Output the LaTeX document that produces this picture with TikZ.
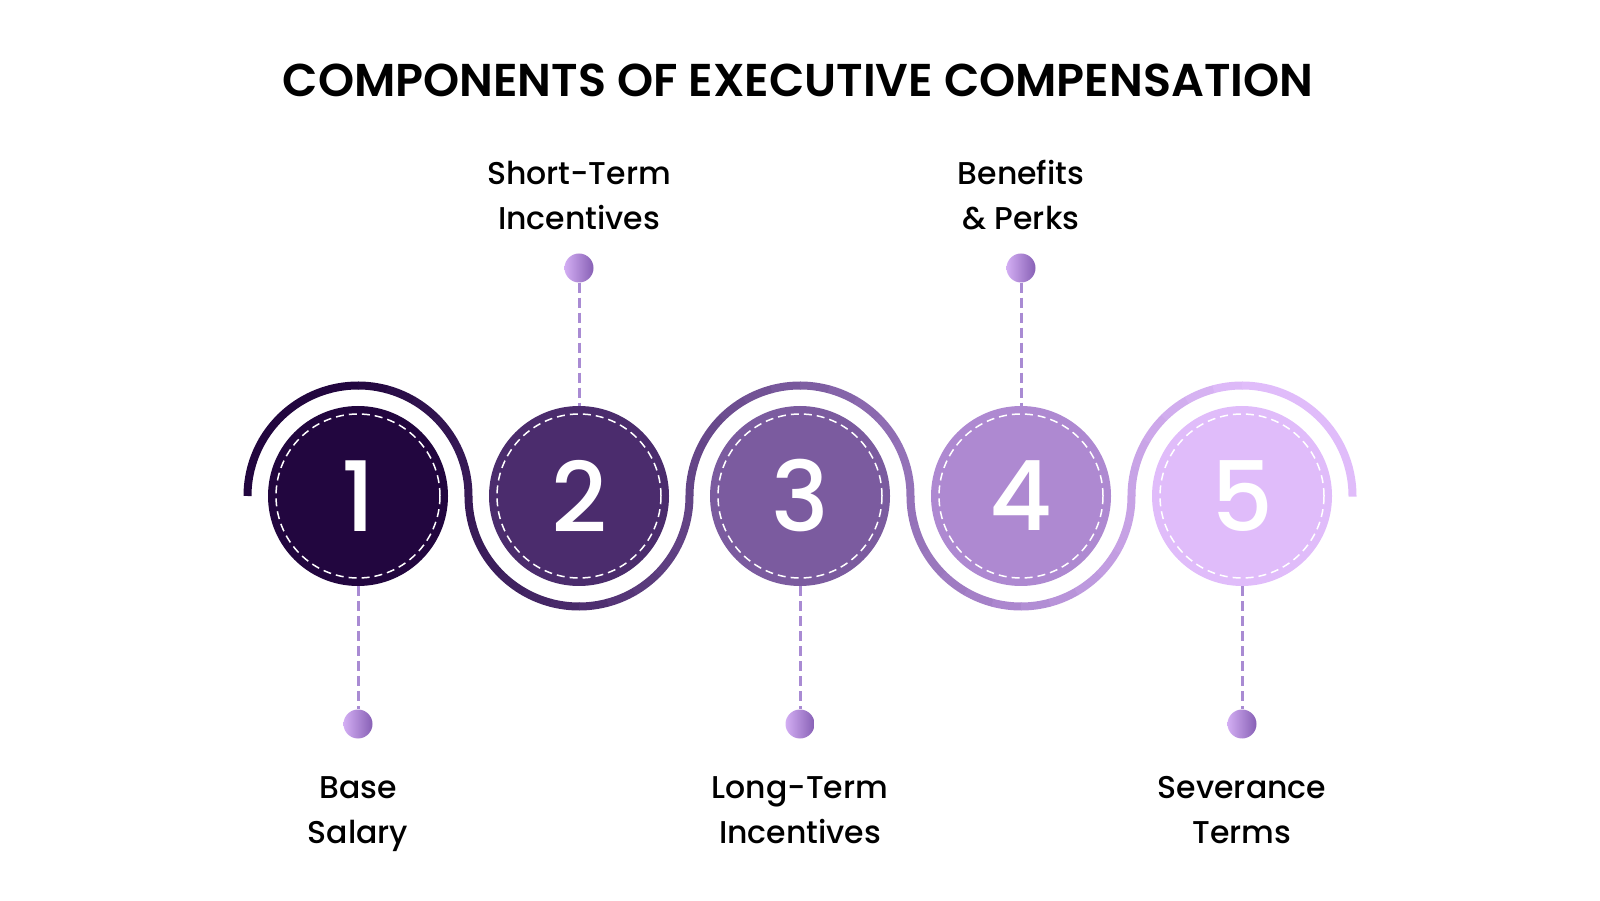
\documentclass[tikz,border=0pt]{standalone}
\usepackage{fontspec}
\setmainfont{Poppins}
\newfontfamily\medfont{Poppins Medium}
\newfontfamily\semifont{Poppins SemiBold}
\usetikzlibrary{positioning}
\definecolor{step1}{HTML}{22063F}
\definecolor{step2}{HTML}{4B2C6D}
\definecolor{step3}{HTML}{7B5B9F}
\definecolor{step4}{HTML}{AE89D1}
\definecolor{step5}{HTML}{E0BCFA}
\definecolor{step6}{HTML}{E0BCFA}
\definecolor{leadcol}{HTML}{A98BD3}
\definecolor{pinlight}{HTML}{D3AEF3}
\definecolor{pindark}{HTML}{8760B5}
\def\wr{110.5}
\def\midy{404}

\begin{document}
\begin{tikzpicture}[x=1pt,y=1pt,
    disc/.style={circle,minimum size=180pt,inner sep=0pt,text=white,
        font=\medfont\fontsize{97}{97}\selectfont},
    pin/.style={circle,minimum size=29pt,inner sep=0pt,left color=pinlight,right color=pindark},
    lead/.style={leadcol,line width=3pt,dash pattern=on 10pt off 5pt},
    itemtext/.style={align=center,anchor=base,font=\medfont\fontsize{31.5}{45}\selectfont}]
\useasboundingbox (0,0) rectangle (1600,900);

\node[anchor=base,font=\semifont\fontsize{46}{46}\selectfont] (title) at (798,803)
    {COMPONENTS OF EXECUTIVE COMPENSATION};

% wave behind the discs
\foreach \i in {1,...,5}{
    \pgfmathsetmacro\cx{358+221*(\i-1)}
    \pgfmathsetmacro\side{1-2*mod(\i+1,2)}
    \foreach \j in {0,...,11}{
        \pgfmathsetmacro\ta{180-\side*15*\j}
        \pgfmathsetmacro\tb{180-\side*(15*(\j+1)+0.3)}
        \pgfmathsetmacro\xm{\cx+\wr*cos((\ta+\tb)/2)}
        \pgfmathsetmacro\tpos{max(0,min(3.999,(\xm-358)/221))}
        \pgfmathtruncatemacro\ka{floor(\tpos)+1}
        \pgfmathtruncatemacro\kb{\ka+1}
        \pgfmathtruncatemacro\pct{100*(1-(\tpos-(\ka-1)))}
        \draw[step\ka!\pct!step\kb,line width=8pt]
            ({\cx+\wr*cos(\ta)},{\midy+\wr*sin(\ta)}) arc (\ta:\tb:\wr);
    }
}

% discs
\node[disc,fill=step1] (c1) at (358,\midy) {1};
\node[disc,fill=step2] (c2) at (579,\midy) {2};
\node[disc,fill=step3] (c3) at (800,\midy) {3};
\node[disc,fill=step4] (c4) at (1021,\midy) {4};
\node[disc,fill=step5] (c5) at (1242,\midy) {5};
\foreach \n in {c1,c2,c3,c4,c5}
    \draw[white,line width=1.5pt,dash pattern=on 8pt off 5pt] (\n.center) circle (82);

% pins and leads
\node[pin] (d1) at (358,176) {};
\node[pin] (d2) at (579,632) {};
\node[pin] (d3) at (800,176) {};
\node[pin] (d4) at (1021,632) {};
\node[pin] (d5) at (1242,176) {};
\draw[lead] (c1.south) -- (d1.north);
\draw[lead] (d2.south) -- (c2.north);
\draw[lead] (c3.south) -- (d3.north);
\draw[lead] (d4.south) -- (c4.north);
\draw[lead] (c5.south) -- (d5.north);

% labels (anchor is the last line's baseline)
\node[itemtext] (t1) at (358,57) {Base\\Salary};
\node[itemtext] (t2) at (579,670) {Short-Term\\Incentives};
\node[itemtext] (t3) at (800,57) {Long-Term\\Incentives};
\node[itemtext] (t4) at (1021,670) {Benefits\\\& Perks};
\node[itemtext] (t5) at (1242,57) {Severance\\Terms};
\end{tikzpicture}
\end{document}
